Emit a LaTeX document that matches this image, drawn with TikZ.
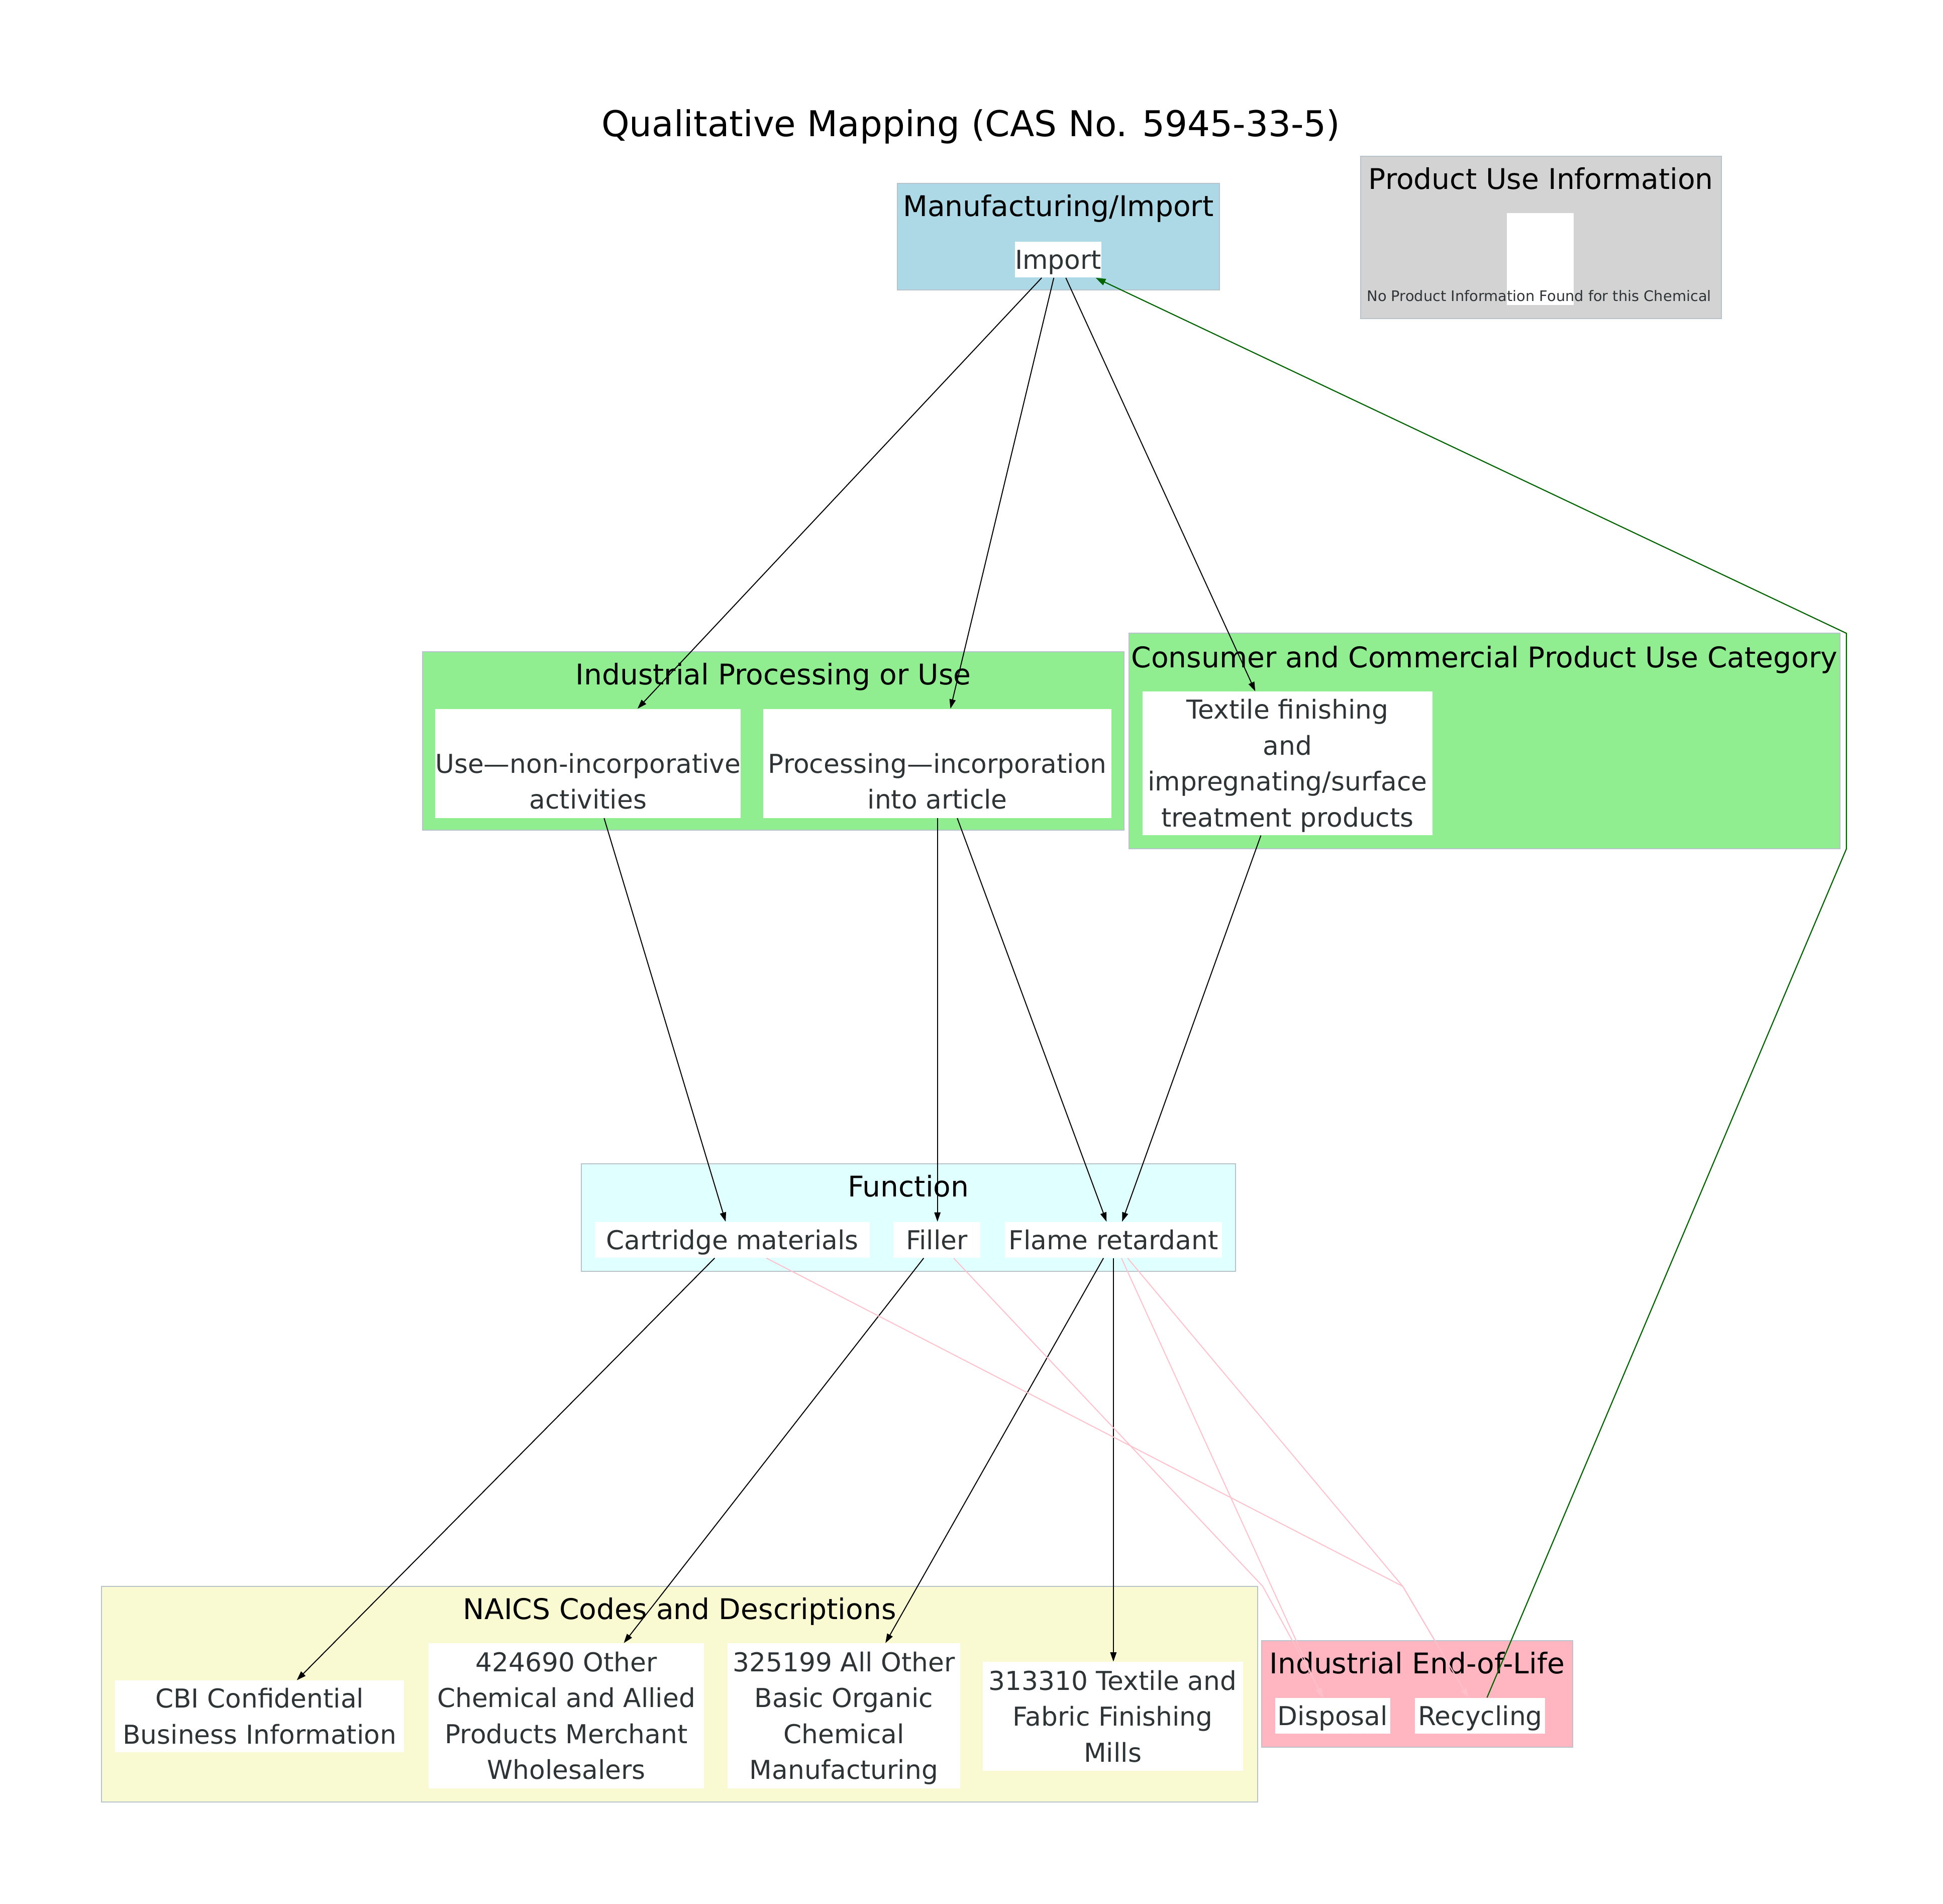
\documentclass[tikz,border=0pt]{standalone}
\usepackage{fontspec}
\setmainfont{DejaVu Sans}
\usepackage{tikz}
\usetikzlibrary{arrows.meta}
\definecolor{mfgblue}{HTML}{ADD8E6}
\definecolor{puigrey}{HTML}{D3D3D3}
\definecolor{stagegreen}{HTML}{90EE90}
\definecolor{funcyan}{HTML}{E0FFFF}
\definecolor{naicsyellow}{HTML}{FAFAD2}
\definecolor{eolpink}{HTML}{FFB6C1}
\definecolor{clusterline}{HTML}{B8C2CA}
\definecolor{nodetext}{HTML}{2E3436}
\definecolor{linkpink}{HTML}{FFC0CB}
\definecolor{loopgreen}{HTML}{006400}

% fixed strut so every box centres its lines the same way
\newcommand{\boxstrut}{\rule[-5.2pt]{0pt}{25.8pt}}

\tikzset{
    cluster/.style={draw=clusterline, line width=0.8pt, inner sep=0pt},
    clusterlabel/.style={anchor=base, inner sep=0pt, text=black,
        font=\fontsize{23}{28}\selectfont},
    itembox/.style={fill=white, inner sep=0pt, align=center, text=nodetext,
        font=\fontsize{21}{29}\selectfont, execute at end node=\boxstrut},
    flow/.style={draw=black, line width=0.8pt, -{Triangle[length=7.5pt,width=5pt]}},
    eolflow/.style={draw=linkpink, line width=0.8pt, -{Triangle[length=7.5pt,width=5pt]}},
    loopback/.style={draw=loopgreen, line width=0.9pt, -{Triangle[length=8pt,width=5.5pt]}}
}

\begin{document}
\begin{tikzpicture}[x=1pt, y=-1pt]
    \fill[white] (0,0) rectangle (1568,1536);
    \useasboundingbox (0,0) rectangle (1568,1536);

    % Title
    \node[anchor=base, inner sep=0pt, font=\fontsize{28.7}{34}\selectfont] (title) at (783.5,110)
        {Qualitative Mapping (CAS No. 5945-33-5)};

    % Clusters
    \node[cluster, fill=mfgblue, minimum width=260pt, minimum height=86pt] (mfg) at (854,191) {};
    \node[cluster, fill=puigrey, minimum width=291pt, minimum height=131pt] (pui) at (1243.5,191.5) {};
    \node[cluster, fill=stagegreen, minimum width=566pt, minimum height=144pt] (ind) at (624,598) {};
    \node[cluster, fill=stagegreen, minimum width=574pt, minimum height=174pt] (con) at (1198,598) {};
    \node[cluster, fill=funcyan, minimum width=528pt, minimum height=87pt] (fun) at (733,982.5) {};
    \node[cluster, fill=naicsyellow, minimum width=933pt, minimum height=174pt] (nai) at (548.5,1367) {};
    \node[cluster, fill=eolpink, minimum width=251pt, minimum height=86pt] (eol) at (1143.5,1367) {};

    % Cluster labels
    \node[clusterlabel] (mfglabel) at ([yshift=-27pt]mfg.north) {Manufacturing/Import};
    \node[clusterlabel] (puilabel) at ([yshift=-27pt]pui.north) {Product Use Information};
    \node[clusterlabel] (indlabel) at ([yshift=-27pt]ind.north) {Industrial Processing or Use};
    \node[clusterlabel] (conlabel) at ([yshift=-28pt]con.north) {Consumer and Commercial Product Use Category};
    \node[clusterlabel] (funlabel) at ([yshift=-27pt]fun.north) {Function};
    \node[clusterlabel] (nailabel) at ([yshift=-27pt]nai.north) {NAICS Codes and Descriptions};
    \node[clusterlabel] (eollabel) at ([yshift=-27pt]eol.north) {Industrial End-of-Life};

    % Manufacturing and product information
    \node[itembox, minimum width=70pt, minimum height=29pt] (imp) at (854,209.5) {\boxstrut Import};
    \node[fill=white, inner sep=0pt, minimum width=54pt, minimum height=74pt] (noinfo) at (1243,209) {};
    \node[anchor=base, inner sep=0pt, text=nodetext, font=\fontsize{11.7}{14}\selectfont] (noinfotext) at (1242,243)
        {No Product Information Found for this Chemical};

    % Processing and use
    \node[itembox, minimum width=245pt, minimum height=88pt] (use) at (474.5,616)
        {\boxstrut\\Use—non-incorporative\\activities};
    \node[itembox, minimum width=281pt, minimum height=88pt] (proc) at (756.5,616)
        {\boxstrut\\Processing—incorporation\\into article};
    \node[itembox, minimum width=234pt, minimum height=116pt] (tex) at (1039,616)
        {\boxstrut Textile finishing\\and\\impregnating/surface\\treatment products};

    % Functions
    \node[itembox, minimum width=222pt, minimum height=29pt] (cart) at (591,1000.5) {\boxstrut Cartridge materials};
    \node[itembox, minimum width=70pt, minimum height=29pt] (fill) at (756,1000.5) {\boxstrut Filler};
    \node[itembox, minimum width=175pt, minimum height=29pt] (flame) at (898.5,1000.5) {\boxstrut Flame retardant};

    % NAICS codes
    \node[itembox, minimum width=233pt, minimum height=58pt] (cbi) at (209.5,1385)
        {\boxstrut CBI Confidential\\Business Information};
    \node[itembox, minimum width=222pt, minimum height=117pt] (n424) at (457,1384.5)
        {\boxstrut 424690 Other\\Chemical and Allied\\Products Merchant\\Wholesalers};
    \node[itembox, minimum width=188pt, minimum height=117pt] (n325) at (681,1384.5)
        {\boxstrut 325199 All Other\\Basic Organic\\Chemical\\Manufacturing};
    \node[itembox, minimum width=210pt, minimum height=88pt] (n313) at (898,1385)
        {\boxstrut 313310 Textile and\\Fabric Finishing\\Mills};

    % End-of-life
    \node[itembox, minimum width=93pt, minimum height=29pt] (disp) at (1075.5,1384.5) {\boxstrut Disposal};
    \node[itembox, minimum width=105pt, minimum height=29pt] (recy) at (1194.5,1384.5) {\boxstrut Recycling};

    % Import to processing, use and products
    \draw[flow] ([xshift=-13.4pt]imp.south) -- ([xshift=40pt]use.north);
    \draw[flow] ([xshift=-3.6pt]imp.south) -- ([xshift=10.5pt]proc.north);
    \draw[flow] ([xshift=6.1pt]imp.south) -- ([xshift=-26pt]tex.north);

    % Stages to functions
    \draw[flow] ([xshift=13pt]use.south) -- ([xshift=-5.4pt]cart.north);
    \draw[flow] (proc.south) -- (proc.south |- fill.north);
    \draw[flow] ([xshift=16pt]proc.south) -- ([xshift=-5.5pt]flame.north);
    \draw[flow] ([xshift=-21.5pt]tex.south) -- ([xshift=7pt]flame.north);

    % Functions to NAICS codes
    \draw[flow] ([xshift=-14.3pt]cart.south) -- ([xshift=30pt]cbi.north);
    \draw[flow] ([xshift=-10.6pt]fill.south) -- ([xshift=46.4pt]n424.north);
    \draw[flow] ([xshift=-8pt]flame.south) -- ([xshift=33.5pt]n325.north);
    \draw[flow] (flame.south) -- (flame.south |- n313.north);

    % Functions to end-of-life
    \coordinate (bendrecy) at (1132,1280);
    \coordinate (benddisp) at (1019,1280);
    \draw[eolflow] ([xshift=27.5pt]cart.south) -- (bendrecy) -- ([xshift=-9.5pt]recy.north);
    \draw[eolflow] ([xshift=11.5pt]flame.south) -- (bendrecy) -- ([xshift=-9.5pt]recy.north);
    \draw[eolflow] ([xshift=13.6pt]fill.south) -- (benddisp) -- ([xshift=-7.5pt]disp.north);
    \draw[eolflow] ([xshift=6.5pt]flame.south) -- ([xshift=-8.5pt]disp.north);

    % Recycling back to import
    \coordinate (loopbot) at (1490,685);
    \coordinate (looptop) at (1490,511);
    \draw[loopback] ([xshift=5.5pt]recy.north) -- (loopbot) -- (looptop) -- ([xshift=-5pt]imp.south east);
\end{tikzpicture}
\end{document}
